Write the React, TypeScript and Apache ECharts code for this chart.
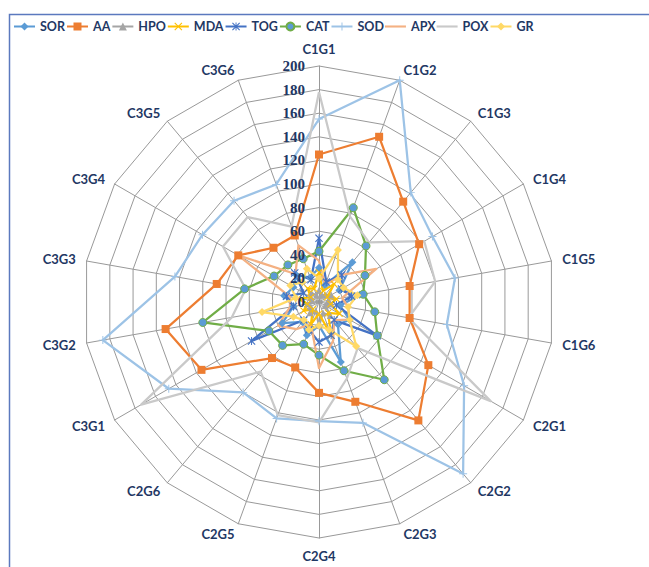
import { useEffect, useRef } from "react";
import * as echarts from "echarts";

// Radar spokes, listed clockwise starting from the top
const spokes = [
  "C1G1", "C1G2", "C1G3", "C1G4", "C1G5", "C1G6",
  "C2G1", "C2G2", "C2G3", "C2G4", "C2G5", "C2G6",
  "C3G1", "C3G2", "C3G3", "C3G4", "C3G5", "C3G6",
];

// Value scale of the rings
const scaleMin = 0;
const scaleMax = 200;
const scaleStep = 20;

// Series values, one per spoke (same order as `spokes`)
const SOR = [29, 15, 44, 20, 35, 18, 30, 25, 54, 20, 30, 22, 36, 22, 30, 25, 30, 22];
const AA = [125, 149, 111, 98, 78, 78, 107, 131, 90, 77, 59, 62, 115, 132, 88, 79, 60, 60];
const HPO = [10, 6, 8, 12, 8, 10, 6, 15, 10, 20, 8, 12, 8, 10, 6, 8, 10, 6];
const MDA = [25, 10, 20, 8, 15, 10, 20, 12, 30, 10, 20, 8, 15, 10, 18, 8, 15, 12];
const TOG = [54, 18, 30, 22, 28, 15, 57, 20, 30, 34, 25, 20, 66, 22, 28, 15, 32, 20];
const CAT = [43, 85, 62, 45, 38, 48, 57, 86, 62, 45, 38, 48, 49, 100, 64, 44, 41, 39];
const SOD = [155, 200, 121, 111, 117, 110, 142, 190, 109, 101, 105, 100, 147, 186, 124, 114, 112, 106];
const APX = [35, 15, 30, 56, 20, 25, 30, 20, 35, 56, 20, 30, 40, 25, 25, 79, 31, 51];
const POX = [178, 77, 66, 103, 100, 77, 168, 51, 69, 102, 102, 77, 174, 75, 63, 94, 94, 68];
const GR = [20, 47, 25, 24, 33, 25, 30, 49, 25, 20, 25, 20, 25, 49, 20, 28, 22, 30];

const CROSS = "path://M0,1 L1,0 L5,4 L9,0 L10,1 L6,5 L10,9 L9,10 L5,6 L1,10 L0,9 L4,5 Z";
const PLUS = "path://M4.4,0 H5.6 V4.4 H10 V5.6 H5.6 V10 H4.4 V5.6 H0 V4.4 H4.4 Z";
const STAR =
  "path://M0,1 L1,0 L5,4 L9,0 L10,1 L6,5 L10,9 L9,10 L5,6 L1,10 L0,9 L4,5 Z M4.4,0 H5.6 V10 H4.4 Z";
const DASH = "path://M0,0 H40 V4 H0 Z";

type SeriesDef = {
  name: string;
  values: number[];
  line: string;
  fill: string;
  symbol: string;
  size: number;
};

const seriesDefs: SeriesDef[] = [
  { name: "SOR", values: SOR, line: "#5B9BD5", fill: "#5B9BD5", symbol: "diamond", size: 8 },
  { name: "AA", values: AA, line: "#ED7D31", fill: "#ED7D31", symbol: "rect", size: 8 },
  { name: "HPO", values: HPO, line: "#A5A5A5", fill: "#A5A5A5", symbol: "triangle", size: 7 },
  { name: "MDA", values: MDA, line: "#FFC000", fill: "#FFC000", symbol: CROSS, size: 7 },
  { name: "TOG", values: TOG, line: "#4472C4", fill: "#4472C4", symbol: STAR, size: 8 },
  { name: "CAT", values: CAT, line: "#70AD47", fill: "#5B9BD5", symbol: "circle", size: 8 },
  { name: "SOD", values: SOD, line: "#9DC3E6", fill: "#9DC3E6", symbol: PLUS, size: 8 },
  { name: "APX", values: APX, line: "#F4B183", fill: "#F4B183", symbol: "none", size: 0 },
  { name: "POX", values: POX, line: "#C9C9C9", fill: "#C9C9C9", symbol: "none", size: 0 },
  { name: "GR", values: GR, line: "#FFD966", fill: "#FFD966", symbol: "diamond", size: 8 },
];

// ECharts lays radar spokes counter-clockwise; flip so the order runs clockwise.
const clockwise = <T,>(arr: T[]): T[] => [arr[0], ...arr.slice(1).reverse()];

const CX = 319;
const CY = 302;
const R = 236;
const NAVY = "#1F3864";

export default function App() {
  const ref = useRef<HTMLDivElement>(null);

  useEffect(() => {
    if (!ref.current) return;
    const chart = echarts.init(ref.current, undefined, { renderer: "svg" });

    const legendSeries = seriesDefs.map((s) => ({
      type: "line" as const,
      name: s.name,
      data: [] as number[],
      xAxisIndex: 0,
      yAxisIndex: 0,
      symbol: s.symbol === "none" ? "circle" : s.symbol,
      symbolSize: s.size,
      lineStyle: { color: s.line, width: 2.25 },
      itemStyle: {
        color: s.fill,
        borderColor: s.name === "CAT" ? s.line : s.fill,
        borderWidth: s.name === "CAT" ? 1 : 0,
      },
    }));

    const radarSeries = seriesDefs.map((s) => ({
      type: "radar" as const,
      name: s.name,
      radarIndex: 0,
      symbol: s.symbol,
      symbolSize: s.size,
      lineStyle: { color: s.line, width: 2.25 },
      itemStyle: {
        color: s.fill,
        borderColor: s.name === "CAT" ? s.line : s.fill,
        borderWidth: s.name === "CAT" ? 1 : 0,
      },
      data: [{ name: s.name, value: clockwise(s.values) }],
    }));

    chart.setOption({
      animation: false,
      backgroundColor: "#ffffff",
      legend: {
        left: 8,
        top: 15,
        width: 1200,
        itemWidth: 21,
        itemHeight: 10,
        itemGap: 1,
        data: seriesDefs.map((s) =>
          s.symbol === "none" ? { name: s.name, icon: DASH } : { name: s.name }
        ),
        textStyle: {
          color: NAVY,
          fontFamily: "Lato",
          fontWeight: "bold",
          fontSize: 12.5,
        },
      },
      graphic: [
        {
          type: "rect",
          shape: { x: 9.5, y: 14.5, width: 800, height: 700 },
          style: { fill: "none", stroke: "#5B79BE", lineWidth: 1.5 },
          z: -1,
          silent: true,
        },
      ],
      // value labels along the top spoke
      grid: { left: CX, top: CY - R, width: 1, height: R },
      xAxis: { type: "value", show: false },
      yAxis: {
        type: "value",
        min: scaleMin,
        max: scaleMax,
        interval: scaleStep,
        z: 20,
        axisLine: { show: false },
        axisTick: { show: false },
        splitLine: { show: false },
        axisLabel: {
          margin: 14,
          color: NAVY,
          fontFamily: "Liberation Serif",
          fontWeight: "bold",
          fontSize: 15,
        },
      },
      radar: {
        center: [CX, CY],
        radius: R,
        startAngle: 90,
        splitNumber: (scaleMax - scaleMin) / scaleStep,
        shape: "polygon",
        nameGap: 11,
        indicator: clockwise(spokes).map((n) => ({ name: n, min: scaleMin, max: scaleMax })),
        axisName: {
          color: NAVY,
          fontFamily: "Lato",
          fontWeight: "bold",
          fontSize: 13,
        },
        axisLine: { lineStyle: { color: "#999999", width: 1 } },
        splitLine: { lineStyle: { color: "#999999", width: 1 } },
        splitArea: { show: false },
        axisLabel: { show: false },
      },
      series: [...legendSeries, ...radarSeries],
    });

    return () => chart.dispose();
  }, []);

  return (
    <div
      ref={ref}
      style={{ position: "fixed", left: 0, top: 0, width: 649, height: 567 }}
    />
  );
}
